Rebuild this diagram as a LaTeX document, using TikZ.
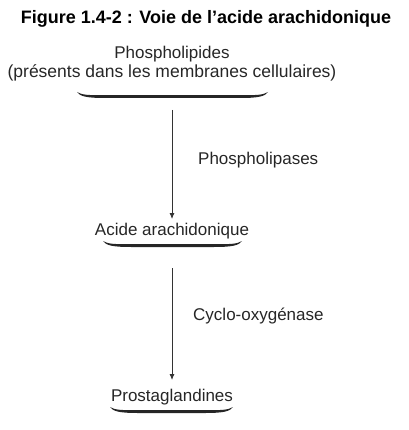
\documentclass[tikz,border=0pt]{standalone}
\usepackage{fontspec}
\setmainfont{Liberation Sans}
\usetikzlibrary{arrows.meta}
\tikzset{
  lbl/.style={inner sep=0pt, font=\fontsize{17}{19}\selectfont, text=black!85},
  ttl/.style={inner sep=0pt, font=\fontsize{18}{20}\selectfont\bfseries},
  arr/.style={line width=0.8pt, -{Latex[length=6pt,width=5pt]}, black!80},
  brc/.style={fill=black!85}
}
\newcommand\mybrc[3]{% left, right, y
  \fill[brc] (#1,#3-4) .. controls (#1+3,#3+0.5) and (#1+10,#3+2) .. (#1+28,#3+2)
    -- (#2-28,#3+2) .. controls (#2-10,#3+2) and (#2-3,#3+0.5) .. (#2,#3-4)
    .. controls (#2-5,#3-0.8) and (#2-12,#3-0.8) .. (#2-28,#3-0.8)
    -- (#1+28,#3-0.8) .. controls (#1+12,#3-0.8) and (#1+5,#3-0.8) .. cycle;}
\begin{document}
\begin{tikzpicture}[x=1pt,y=-1pt]
\useasboundingbox (0,0) rectangle (408,430);
\node[ttl] (title) at (206,19) {Figure 1.4-2 : Voie de l’acide arachidonique};
\node[lbl] (pl) at (172,54) {Phospholipides};
\node[lbl, font=\fontsize{17.5}{19}\selectfont] (pl2) at (172,73) {(présents dans les membranes cellulaires)};
\mybrc{77}{268}{96}
\node[lbl] (aa) at (172,231) {Acide arachidonique};
\mybrc{103}{242}{245}
\node[lbl] (pg) at (172,397) {Prostaglandines};
\mybrc{110}{233}{411}
\coordinate (a1s) at (172,110);
\coordinate (a1e) at (172,219);
\coordinate (a2s) at (172,268);
\coordinate (a2e) at (172,380);
\draw[arr] (a1s) -- (a1e);
\draw[arr] (a2s) -- (a2e);
\node[lbl, anchor=west] (plase) at (198,160) {Phospholipases};
\node[lbl, anchor=west] (cox) at (193,316) {Cyclo-oxygénase};
\end{tikzpicture}
\end{document}
